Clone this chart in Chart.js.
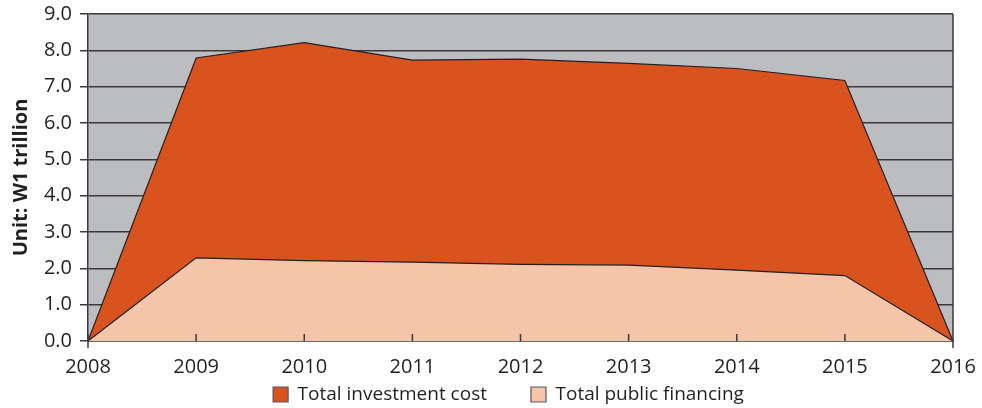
<!DOCTYPE html>
<html>
<head>
<meta charset="utf-8">
<script src="https://cdn.jsdelivr.net/npm/chart.js@4/dist/chart.umd.min.js"></script>
<style>
  html, body { margin: 0; padding: 0; background: #fff; }
  #wrap { width: 982px; height: 408px; }
</style>
</head>
<body>
<div id="wrap"><canvas id="areaChart"></canvas></div>
<script>
const years = ['2008', '2009', '2010', '2011', '2012', '2013', '2014', '2015', '2016'];
const investmentCost = [0, 7.79, 8.21, 7.73, 7.76, 7.64, 7.5, 7.17, 0];
const publicFinancing = [0, 2.29, 2.21, 2.17, 2.11, 2.09, 1.95, 1.8, 0];
const yTicks = [0, 1, 2, 3, 4, 5, 6, 7, 8, 9];

const ink = '#231f20';
const rule = '#3a3a3c';

// plot background, right edge and small inward ticks on the x axis
const frame = {
    id: 'frame',
    afterLayout(chart) {
        // legend keeps a short layout box but draws just under the axis labels
        const lg = chart.legend;
        lg.top = chart.chartArea.bottom;
        lg.height = lg.bottom - lg.top;
        lg.left -= 12;
        lg.right -= 12;
    },
    beforeDraw(chart) {
        const { ctx, chartArea: a } = chart;
        ctx.save();
        ctx.fillStyle = '#bcbdc1';
        ctx.fillRect(a.left, a.top, a.right - a.left, a.bottom - a.top);
        ctx.restore();
    },
    afterDatasetsDraw(chart) {
        const { ctx, chartArea: a, scales } = chart;
        ctx.save();
        ctx.strokeStyle = rule;
        ctx.lineWidth = 1.5;
        ctx.beginPath();
        ctx.moveTo(a.right, a.top);
        ctx.lineTo(a.right, a.bottom + 7);
        ctx.moveTo(a.left, a.bottom);
        ctx.lineTo(a.left, a.bottom + 7);
        scales.x.ticks.forEach((t, i) => {
            const x = scales.x.getPixelForTick(i);
            ctx.moveTo(x, a.bottom);
            ctx.lineTo(x, a.bottom - 7);
        });
        ctx.stroke();
        ctx.restore();
    }
};

new Chart(document.getElementById('areaChart'), {
    type: 'line',
    data: {
        labels: years,
        datasets: [{
            label: 'Total investment cost',
            data: investmentCost,
            fill: 'origin',
            order: 1,
            backgroundColor: '#d8531e',
            borderColor: ink,
            borderWidth: 1.2,
            pointRadius: 0,
            tension: 0
        }, {
            label: 'Total public financing',
            data: publicFinancing,
            fill: 'origin',
            order: 0,
            backgroundColor: '#f4c5a8',
            borderColor: ink,
            borderWidth: 1.2,
            pointRadius: 0,
            tension: 0
        }]
    },
    options: {
        responsive: true,
        maintainAspectRatio: false,
        animation: false,
        layout: { padding: { top: 14, right: 29, left: 0, bottom: 0 } },
        plugins: {
            legend: {
                position: 'bottom',
                fullSize: false,
                maxHeight: 30,
                labels: {
                    sort: (a, b) => a.datasetIndex - b.datasetIndex,
                    color: ink,
                    font: { family: 'Open Sans', size: 19 },
                    boxWidth: 15,
                    boxHeight: 15,
                    padding: 44,
                    generateLabels(chart) {
                        return Chart.defaults.plugins.legend.labels.generateLabels(chart).map(l => {
                            l.strokeStyle = '#58595b';
                            l.lineWidth = 1.2;
                            return l;
                        });
                    }
                }
            },
            tooltip: { enabled: false }
        },
        scales: {
            x: {
                offset: false,
                grid: { display: false, drawTicks: false },
                border: { display: true, color: rule, width: 1.5 },
                ticks: {
                    color: ink,
                    font: { family: 'Open Sans', size: 20 },
                    padding: 14,
                    maxRotation: 0
                },
                afterFit(scale) {
                    scale.height = 37;
                    scale.paddingLeft = 0;
                    scale.paddingRight = 0;
                }
            },
            y: {
                min: 0,
                max: 9,
                afterBuildTicks(scale) { scale.ticks = yTicks.map(v => ({ value: v })); },
                grid: {
                    color: rule,
                    lineWidth: 1.5,
                    tickLength: 8,
                    drawTicks: true
                },
                border: { display: true, color: rule, width: 1.5 },
                ticks: {
                    color: ink,
                    font: { family: 'Open Sans', size: 20 },
                    padding: 8,
                    callback: v => v.toFixed(1)
                },
                title: {
                    display: true,
                    text: 'Unit: W1 trillion',
                    color: ink,
                    font: { family: 'Open Sans', size: 20, weight: 'bold' },
                    padding: { top: 9, bottom: 4 }
                },
                afterFit(scale) {
                    scale.width = 88;
                    scale.paddingTop = 0;
                    scale.paddingBottom = 0;
                }
            }
        }
    },
    plugins: [frame]
});
</script>
</body>
</html>
